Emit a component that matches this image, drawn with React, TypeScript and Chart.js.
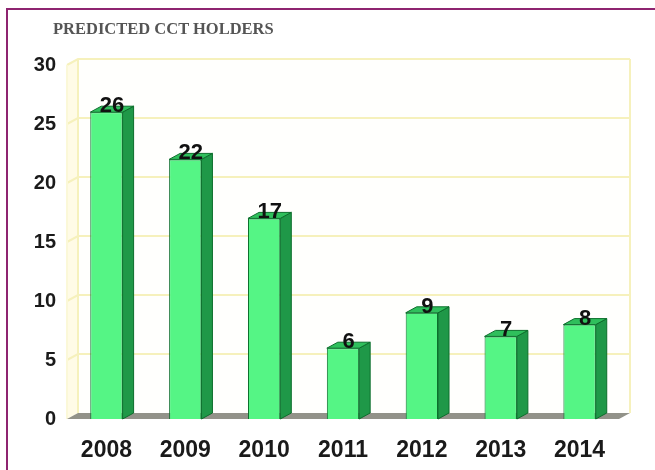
import React, { useEffect, useRef } from "react";
import { Chart, registerables } from "chart.js";

Chart.register(...registerables);

const years = ["2008", "2009", "2010", "2011", "2012", "2013", "2014"];
const holders = [26, 22, 17, 6, 9, 7, 8];
const yTicks = [0, 5, 10, 15, 20, 25, 30];
const titleText = "PREDICTED CCT HOLDERS";

const DX = 11;
const DY = 6;

const threeD = {
  id: "threeD",
  beforeDatasetsDraw(chart: any) {
    const { ctx, chartArea, scales } = chart;
    const { left, right, top, bottom } = chartArea;
    const y = scales.y;
    ctx.save();
    // left side wall
    ctx.fillStyle = "#fffbe6";
    ctx.beginPath();
    ctx.moveTo(left, bottom);
    ctx.lineTo(left + DX, bottom - DY);
    ctx.lineTo(left + DX, top - DY);
    ctx.lineTo(left, top);
    ctx.closePath();
    ctx.fill();
    // back wall
    ctx.fillStyle = "#fffffd";
    ctx.fillRect(left + DX, top - DY, right - left, bottom - top);
    ctx.strokeStyle = "#f6f1bc";
    ctx.lineWidth = 2;
    yTicks.forEach((v) => {
      if (v === 0) return;
      const py = y.getPixelForValue(v);
      ctx.beginPath();
      ctx.moveTo(left, py);
      ctx.lineTo(left + DX, py - DY);
      ctx.lineTo(right + DX, py - DY);
      ctx.stroke();
    });
    ctx.beginPath();
    ctx.moveTo(left + DX, bottom - DY);
    ctx.lineTo(left + DX, top - DY);
    ctx.moveTo(right + DX, bottom - DY);
    ctx.lineTo(right + DX, top - DY);
    ctx.stroke();
    ctx.strokeStyle = "#fbf8d8";
    ctx.beginPath();
    ctx.moveTo(left, bottom);
    ctx.lineTo(left, top);
    ctx.stroke();
    // floor
    ctx.fillStyle = "#929289";
    ctx.beginPath();
    ctx.moveTo(left, bottom);
    ctx.lineTo(right, bottom);
    ctx.lineTo(right + DX, bottom - DY);
    ctx.lineTo(left + DX, bottom - DY);
    ctx.closePath();
    ctx.fill();
    ctx.restore();
  },
  afterDatasetsDraw(chart: any) {
    const { ctx } = chart;
    const meta = chart.getDatasetMeta(0);
    const data = chart.data.datasets[0].data;
    ctx.save();
    meta.data.forEach((bar: any, i: number) => {
      const { x, y, base, width } = bar.getProps(["x", "y", "base", "width"], true);
      const l = x - width / 2;
      const r = x + width / 2;
      ctx.lineWidth = 1;
      ctx.strokeStyle = "#0c6e2c";
      // side face
      ctx.fillStyle = "#1f9848";
      ctx.beginPath();
      ctx.moveTo(r, y);
      ctx.lineTo(r + DX, y - DY);
      ctx.lineTo(r + DX, base - DY);
      ctx.lineTo(r, base);
      ctx.closePath();
      ctx.fill();
      ctx.stroke();
      // top face
      ctx.fillStyle = "#2fbf5c";
      ctx.beginPath();
      ctx.moveTo(l, y);
      ctx.lineTo(l + DX, y - DY);
      ctx.lineTo(r + DX, y - DY);
      ctx.lineTo(r, y);
      ctx.closePath();
      ctx.fill();
      ctx.stroke();
      // label
      ctx.fillStyle = "#111";
      ctx.font = "bold 22px 'Liberation Sans', Arial, sans-serif";
      ctx.textAlign = "center";
      ctx.textBaseline = "middle";
      ctx.fillText(String(data[i]), x + DX / 2, y - DY / 2 - 3);
    });
    ctx.restore();
  },
};

export default function App() {
  const ref = useRef<HTMLCanvasElement | null>(null);
  useEffect(() => {
    if (!ref.current) return;
    const chart = new Chart(ref.current, {
      type: "bar",
      data: {
        labels: years,
        datasets: [
          {
            data: holders,
            backgroundColor: "#55f585",
            borderColor: "#0c6e2c",
            borderWidth: 1,
            barPercentage: 0.41,
            categoryPercentage: 1,
          },
        ],
      },
      options: {
        animation: false,
        responsive: false,
        layout: { padding: { top: 65, right: 36, left: 0, bottom: 0 } },
        plugins: { legend: { display: false }, tooltip: { enabled: false }, title: { display: false } },
        scales: {
          x: {
            grid: { display: false, drawTicks: false },
            border: { display: false },
            ticks: {
              color: "#1a1a1a",
              font: { family: "'Liberation Sans', Arial, sans-serif", size: 23, weight: "bold" },
              padding: 18,
            },
            afterFit: (s: any) => {
              s.height = 51;
            },
          },
          y: {
            min: 0,
            max: 30,
            grid: { display: false, drawTicks: false },
            border: { display: false },
            ticks: {
              stepSize: 5,
              color: "#1a1a1a",
              font: { family: "'Liberation Sans', Arial, sans-serif", size: 20, weight: "bold" },
              padding: 11,
            },
            afterFit: (s: any) => {
              s.width = 67;
            },
          },
        },
      },
      plugins: [threeD],
    });
    return () => chart.destroy();
  }, []);
  return (
    <div style={{ position: "absolute", left: 0, top: 0, width: 655, height: 470, background: "#fff" }}>
      <canvas ref={ref} width={655} height={470} style={{ position: "absolute", left: 0, top: 0 }} />
      <div
        style={{
          position: "absolute",
          left: 6,
          top: 8,
          width: 655,
          height: 470,
          borderTop: "2px solid #8e2470",
          borderLeft: "2px solid #8e2470",
          pointerEvents: "none",
        }}
      />
      <div
        style={{
          position: "absolute",
          left: 53,
          top: 19,
          fontFamily: "'Liberation Serif', 'Times New Roman', serif",
          fontWeight: "bold",
          fontSize: 16.5,
          color: "#555",
          whiteSpace: "nowrap",
          lineHeight: "20px",
        }}
      >
        {titleText}
      </div>
    </div>
  );
}
